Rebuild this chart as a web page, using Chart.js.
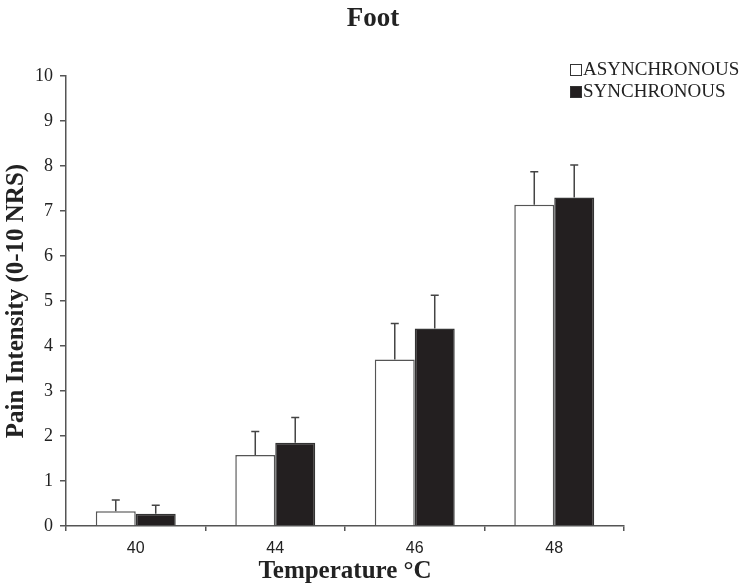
<!DOCTYPE html>
<html>
<head>
<meta charset="utf-8">
<title>Foot</title>
<script src="https://cdn.jsdelivr.net/npm/chart.js@4.4.0/dist/chart.umd.min.js"></script>
<style>
    html, body { margin: 0; padding: 0; background: #fff; }
    #wrap { width: 744px; height: 588px; position: relative; }
</style>
</head>
<body>
<div id="wrap"><canvas id="pain-chart"></canvas></div>
<script>
const temperatures = ['40', '44', '46', '48'];
const asyncMeans = [0.33, 1.58, 3.70, 7.14];
const asyncErrors = [0.25, 0.52, 0.80, 0.73];
const syncMeans = [0.27, 1.85, 4.39, 7.30];
const syncErrors = [0.19, 0.56, 0.74, 0.72];
const yTicks = [0, 1, 2, 3, 4, 5, 6, 7, 8, 9, 10];
const chartTitle = 'Foot';

const serif = '"Liberation Serif", "Times New Roman", serif';
const sans = '"Liberation Sans", Arial, sans-serif';
const axisColor = '#555';

// upper error whiskers, drawn from the y scale
const errorBars = {
    id: 'errorBars',
    afterDatasetsDraw(chart) {
        const ctx = chart.ctx;
        const yScale = chart.scales.y;
        ctx.save();
        ctx.strokeStyle = '#444';
        ctx.lineWidth = 1.5;
        chart.data.datasets.forEach((ds, i) => {
            const meta = chart.getDatasetMeta(i);
            meta.data.forEach((bar, j) => {
                const top = yScale.getPixelForValue(ds.data[j] + ds.errors[j]);
                ctx.beginPath();
                ctx.moveTo(bar.x, bar.y);
                ctx.lineTo(bar.x, top);
                ctx.moveTo(bar.x - 4, top);
                ctx.lineTo(bar.x + 4, top);
                ctx.stroke();
            });
        });
        ctx.restore();
    }
};

// title over the whole canvas plus a small legend in the upper right corner
const headerAndLegend = {
    id: 'headerAndLegend',
    afterDraw(chart) {
        const ctx = chart.ctx;
        ctx.save();
        ctx.fillStyle = '#222';
        ctx.font = 'bold 27px ' + serif;
        ctx.textAlign = 'center';
        ctx.textBaseline = 'alphabetic';
        ctx.fillText(chartTitle, 373, 26);

        ctx.font = '19px ' + serif;
        ctx.textBaseline = 'middle';
        ctx.textAlign = 'left';
        chart.data.datasets.forEach((ds, i) => {
            const y = 64 + i * 22;
            ctx.fillStyle = ds.backgroundColor;
            ctx.fillRect(570, y, 11, 11);
            ctx.strokeStyle = '#333';
            ctx.lineWidth = 1;
            ctx.strokeRect(570.5, y + 0.5, 11, 11);
            ctx.fillStyle = '#222';
            ctx.fillText(ds.label, 583, y + 6);
        });
        ctx.restore();
    }
};

new Chart(document.getElementById('pain-chart'), {
    type: 'bar',
    data: {
        labels: temperatures,
        datasets: [{
            label: 'ASYNCHRONOUS',
            data: asyncMeans,
            errors: asyncErrors,
            backgroundColor: '#ffffff',
            borderColor: '#555',
            borderWidth: 1.5
        }, {
            label: 'SYNCHRONOUS',
            data: syncMeans,
            errors: syncErrors,
            backgroundColor: '#231f20',
            borderColor: '#333',
            borderWidth: 1.5
        }]
    },
    options: {
        responsive: true,
        maintainAspectRatio: false,
        animation: false,
        datasets: {
            bar: {
                categoryPercentage: 0.573,
                barPercentage: 1.0
            }
        },
        layout: {
            padding: { left: 0, right: 120, top: 76, bottom: 0 }
        },
        scales: {
            x: {
                afterFit: scale => { scale.height = 62; },
                grid: {
                    drawOnChartArea: false,
                    drawTicks: true,
                    tickLength: 5,
                    color: axisColor,
                    lineWidth: 1.5
                },
                border: { display: true, color: axisColor, width: 1.5 },
                ticks: {
                    color: '#222',
                    padding: 8,
                    font: { family: sans, size: 16 }
                },
                title: {
                    display: true,
                    text: 'Temperature °C',
                    color: '#222',
                    padding: { top: 0, bottom: 1 },
                    font: { family: serif, size: 25, weight: 'bold' }
                }
            },
            y: {
                min: 0,
                max: 10,
                afterFit: scale => { scale.width = 66; },
                afterBuildTicks: scale => {
                    scale.ticks = yTicks.map(v => ({ value: v }));
                },
                grid: {
                    drawOnChartArea: false,
                    drawTicks: true,
                    tickLength: 6,
                    color: axisColor,
                    lineWidth: 1.5
                },
                border: { display: true, color: axisColor, width: 1.5 },
                ticks: {
                    color: '#222',
                    padding: 7,
                    font: { family: serif, size: 18 }
                },
                title: {
                    display: true,
                    text: 'Pain Intensity (0-10 NRS)',
                    color: '#222',
                    padding: { top: 2, bottom: 0 },
                    font: { family: serif, size: 25, weight: 'bold' }
                }
            }
        },
        plugins: {
            legend: { display: false },
            tooltip: { enabled: false },
            title: { display: false }
        }
    },
    plugins: [errorBars, headerAndLegend]
});
</script>
</body>
</html>
